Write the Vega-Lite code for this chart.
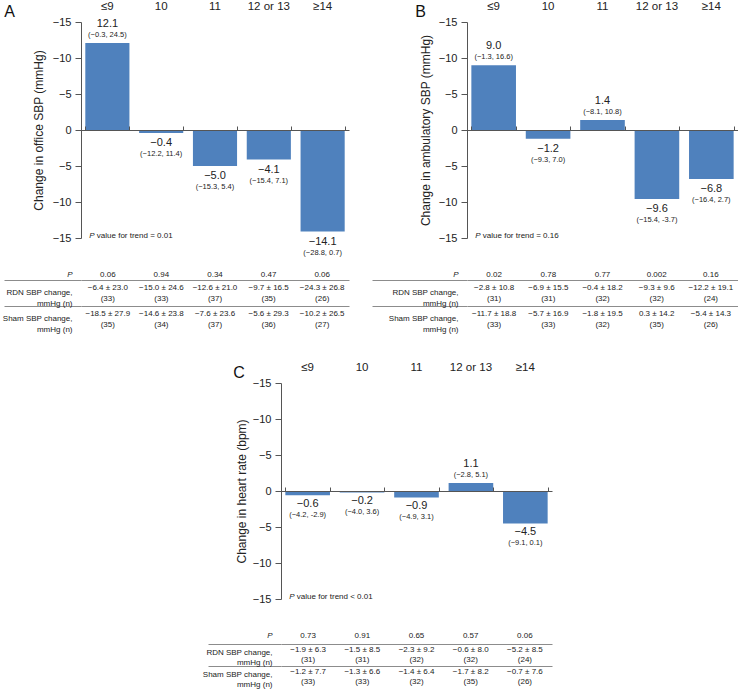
{
  "$schema": "https://vega.github.io/schema/vega-lite/v6.json",
  "background": "white",
  "padding": {"left": 2, "top": 0, "right": 0, "bottom": 0},
  "config": {"font": "Liberation Sans", "view": {"stroke": null}},
  "spacing": 27,
  "vconcat": [
    {
      "hconcat": [
        {
          "vconcat": [
            {
              "title": {"text": "A", "anchor": "start", "frame": "bounds", "offset": -20, "dx": -28, "fontSize": 16, "fontWeight": "normal", "color": "#111"},
              "width": 268, "height": 216,
              "data": {"values": [
                {"g": "≤9", "v": 12.1, "ci": "(−0.3, 24.5)"},
                {"g": "10", "v": -0.4, "ci": "(−12.2, 11.4)"},
                {"g": "11", "v": -5.0, "ci": "(−15.3, 5.4)"},
                {"g": "12 or 13", "v": -4.1, "ci": "(−15.4, 7.1)"},
                {"g": "≥14", "v": -14.1, "ci": "(−28.8, 0.7)"}
              ]},
              "encoding": {
                "x": {"field": "g", "type": "nominal", "sort": null, "axis": null, "scale": {"domain": ["≤9", "10", "11", "12 or 13", "≥14"], "paddingInner": 0.18, "paddingOuter": 0.08}},
                "y": {"field": "v", "type": "quantitative", "scale": {"domain": [-15, 15]}, "axis": {"values": [-15, -10, -5, 0, 5, 10, 15], "labelExpr": "datum.value == 0 ? '0' : '−' + abs(datum.value)", "title": "Change in office SBP (mmHg)", "titleFontSize": 12, "titleFontWeight": "normal", "titleColor": "#222", "titlePadding": 7, "labelFontSize": 11, "labelColor": "#222", "labelPadding": 4, "tickSize": 6, "tickColor": "#555", "domainColor": "#555", "grid": false}}
              },
              "layer": [
                {"mark": {"type": "bar", "color": "#4F81BD"},
                 "encoding": {"x": {"field": "g", "type": "nominal", "sort": null, "scale": {"domain": ["≤9", "10", "11", "12 or 13", "≥14"], "paddingInner": 0.18, "paddingOuter": 0.08}, "axis": {"orient": "top", "title": null, "domain": false, "ticks": false, "labelAngle": 0, "labelFontSize": 11.5, "labelColor": "#222", "labelPadding": 11, "grid": false}}}},
                {"transform": [{"filter": "datum.v > 0"}], "mark": {"type": "text", "fontSize": 11, "dy": -19, "color": "#222"}, "encoding": {"text": {"field": "v", "type": "quantitative", "format": ".1f"}}},
                {"transform": [{"filter": "datum.v > 0"}], "mark": {"type": "text", "fontSize": 7.5, "dy": -8, "color": "#222"}, "encoding": {"text": {"field": "ci"}}},
                {"transform": [{"filter": "datum.v < 0"}], "mark": {"type": "text", "fontSize": 11, "dy": 10, "color": "#222"},
                 "encoding": {"x": {"field": "g", "type": "nominal", "sort": null, "scale": {"domain": ["≤9", "10", "11", "12 or 13", "≥14"], "paddingInner": 0.18, "paddingOuter": 0.08}, "axis": {"orient": "bottom", "offset": -108, "title": null, "labels": false, "domain": true, "domainColor": "#555", "ticks": true, "tickBand": "extent", "tickSize": -4, "tickColor": "#555", "grid": false, "zindex": 1}}, "text": {"field": "v", "type": "quantitative", "format": ".1f"}}},
                {"transform": [{"filter": "datum.v < 0"}], "mark": {"type": "text", "fontSize": 7.5, "dy": 21, "color": "#222"}, "encoding": {"text": {"field": "ci"}}},
                {"transform": [{"filter": "datum.g === '≤9'"}], "mark": {"type": "text", "text": "P", "fontStyle": "italic", "align": "left", "fontSize": 8, "dx": 4, "dy": -2, "color": "#222"},
                 "encoding": {"x": {"datum": "≤9", "type": "nominal", "bandPosition": 0, "axis": null}, "y": {"datum": -15, "type": "quantitative"}}},
                {"transform": [{"filter": "datum.g === '≤9'"}], "mark": {"type": "text", "text": "value for trend = 0.01", "align": "left", "fontSize": 8, "dx": 11.5, "dy": -2, "color": "#222"},
                 "encoding": {"x": {"datum": "≤9", "type": "nominal", "bandPosition": 0, "axis": null}, "y": {"datum": -15, "type": "quantitative"}}}
              ],
              "resolve": {"axis": {"x": "independent"}}
            },
            {
              "width": 268, "height": 78,
              "data": {"values": [
                {"g": "≤9", "p": "0.06", "rdn": "−6.4 ± 23.0", "rdnN": "(33)", "sham": "−18.5 ± 27.9", "shamN": "(35)"},
                {"g": "10", "p": "0.94", "rdn": "−15.0 ± 24.6", "rdnN": "(33)", "sham": "−14.6 ± 23.8", "shamN": "(34)"},
                {"g": "11", "p": "0.34", "rdn": "−12.6 ± 21.0", "rdnN": "(37)", "sham": "−7.6 ± 23.6", "shamN": "(37)"},
                {"g": "12 or 13", "p": "0.47", "rdn": "−9.7 ± 16.5", "rdnN": "(35)", "sham": "−5.6 ± 29.3", "shamN": "(36)"},
                {"g": "≥14", "p": "0.06", "rdn": "−24.3 ± 26.8", "rdnN": "(26)", "sham": "−10.2 ± 26.5", "shamN": "(27)"}
              ]},
              "encoding": {
                "x": {"field": "g", "type": "nominal", "sort": null, "axis": null, "scale": {"domain": ["≤9", "10", "11", "12 or 13", "≥14"], "paddingInner": 0.18, "paddingOuter": 0.08}}
              },
              "layer": [
                {"mark": {"type": "text", "fontSize": 8, "dy": 8, "color": "#222"},
                 "encoding": {"y": {"datum": "P", "type": "nominal", "scale": {"type": "band", "domain": ["P", "RDN", "Sham"], "paddingInner": 0, "paddingOuter": 0},
                   "axis": {"title": null, "domain": false, "ticks": true, "bandPosition": 0, "tickSize": 77, "tickColor": "#8c8c8c", "tickOpacity": {"condition": {"test": "datum.value === 'P'", "value": 0}, "value": 1}, "grid": true, "gridColor": "#8c8c8c", "gridOpacity": {"condition": {"test": "datum.value === 'P'", "value": 0}, "value": 1}, "labelExpr": "datum.value === 'P' ? 'P' : datum.value === 'RDN' ? ['RDN SBP change,', 'mmHg (n)'] : ['Sham SBP change,', 'mmHg (n)']", "labelPadding": -68, "labelFontSize": 8, "labelColor": "#222", "labelLineHeight": 11, "labelAlign": "right", "labelBaseline": "middle", "labelFontStyle": {"condition": {"test": "datum.value === 'P'", "value": "italic"}, "value": "normal"}, "labelOffset": {"condition": {"test": "datum.value === 'P'", "value": 8}, "value": 0}}},
                   "text": {"field": "p"}}},
                {"mark": {"type": "text", "fontSize": 8, "dy": -5.5, "color": "#222"}, "encoding": {"y": {"datum": "RDN", "type": "nominal"}, "text": {"field": "rdn"}}},
                {"mark": {"type": "text", "fontSize": 8, "dy": 5.5, "color": "#222"}, "encoding": {"y": {"datum": "RDN", "type": "nominal"}, "text": {"field": "rdnN"}}},
                {"mark": {"type": "text", "fontSize": 8, "dy": -5.5, "color": "#222"}, "encoding": {"y": {"datum": "Sham", "type": "nominal"}, "text": {"field": "sham"}}},
                {"mark": {"type": "text", "fontSize": 8, "dy": 5.5, "color": "#222"}, "encoding": {"y": {"datum": "Sham", "type": "nominal"}, "text": {"field": "shamN"}}}
              ]
            }
          ],
          "spacing": 16,
          "bounds": "flush"
        },
        {
          "vconcat": [
            {
              "title": {"text": "B", "anchor": "start", "frame": "bounds", "offset": -20, "dx": -4, "fontSize": 16, "fontWeight": "normal", "color": "#111"},
              "width": 271, "height": 216,
              "data": {"values": [
                {"g": "≤9", "v": 9.0, "ci": "(−1.3, 16.6)"},
                {"g": "10", "v": -1.2, "ci": "(−9.3, 7.0)"},
                {"g": "11", "v": 1.4, "ci": "(−8.1, 10.8)"},
                {"g": "12 or 13", "v": -9.6, "ci": "(−15.4, -3.7)"},
                {"g": "≥14", "v": -6.8, "ci": "(−16.4, 2.7)"}
              ]},
              "encoding": {
                "x": {"field": "g", "type": "nominal", "sort": null, "axis": null, "scale": {"domain": ["≤9", "10", "11", "12 or 13", "≥14"], "paddingInner": 0.18, "paddingOuter": 0.08}},
                "y": {"field": "v", "type": "quantitative", "scale": {"domain": [-15, 15]}, "axis": {"values": [-15, -10, -5, 0, 5, 10, 15], "labelExpr": "datum.value == 0 ? '0' : '−' + abs(datum.value)", "title": "Change in ambulatory SBP (mmHg)", "titleFontSize": 12, "titleFontWeight": "normal", "titleColor": "#222", "titlePadding": 6, "labelFontSize": 11, "labelColor": "#222", "labelPadding": 4, "tickSize": 6, "tickColor": "#555", "domainColor": "#555", "grid": false}}
              },
              "layer": [
                {"mark": {"type": "bar", "color": "#4F81BD"},
                 "encoding": {"x": {"field": "g", "type": "nominal", "sort": null, "scale": {"domain": ["≤9", "10", "11", "12 or 13", "≥14"], "paddingInner": 0.18, "paddingOuter": 0.08}, "axis": {"orient": "top", "title": null, "domain": false, "ticks": false, "labelAngle": 0, "labelFontSize": 11.5, "labelColor": "#222", "labelPadding": 11, "grid": false}}}},
                {"transform": [{"filter": "datum.v > 0"}], "mark": {"type": "text", "fontSize": 11, "dy": -19, "color": "#222"}, "encoding": {"text": {"field": "v", "type": "quantitative", "format": ".1f"}}},
                {"transform": [{"filter": "datum.v > 0"}], "mark": {"type": "text", "fontSize": 7.5, "dy": -8, "color": "#222"}, "encoding": {"text": {"field": "ci"}}},
                {"transform": [{"filter": "datum.v < 0"}], "mark": {"type": "text", "fontSize": 11, "dy": 10, "color": "#222"},
                 "encoding": {"x": {"field": "g", "type": "nominal", "sort": null, "scale": {"domain": ["≤9", "10", "11", "12 or 13", "≥14"], "paddingInner": 0.18, "paddingOuter": 0.08}, "axis": {"orient": "bottom", "offset": -108, "title": null, "labels": false, "domain": true, "domainColor": "#555", "ticks": true, "tickBand": "extent", "tickSize": -4, "tickColor": "#555", "grid": false, "zindex": 1}}, "text": {"field": "v", "type": "quantitative", "format": ".1f"}}},
                {"transform": [{"filter": "datum.v < 0"}], "mark": {"type": "text", "fontSize": 7.5, "dy": 21, "color": "#222"}, "encoding": {"text": {"field": "ci"}}},
                {"transform": [{"filter": "datum.g === '≤9'"}], "mark": {"type": "text", "text": "P", "fontStyle": "italic", "align": "left", "fontSize": 8, "dx": 4, "dy": -2, "color": "#222"},
                 "encoding": {"x": {"datum": "≤9", "type": "nominal", "bandPosition": 0, "axis": null}, "y": {"datum": -15, "type": "quantitative"}}},
                {"transform": [{"filter": "datum.g === '≤9'"}], "mark": {"type": "text", "text": "value for trend = 0.16", "align": "left", "fontSize": 8, "dx": 11.5, "dy": -2, "color": "#222"},
                 "encoding": {"x": {"datum": "≤9", "type": "nominal", "bandPosition": 0, "axis": null}, "y": {"datum": -15, "type": "quantitative"}}}
              ],
              "resolve": {"axis": {"x": "independent"}}
            },
            {
              "width": 271, "height": 78,
              "data": {"values": [
                {"g": "≤9", "p": "0.02", "rdn": "−2.8 ± 10.8", "rdnN": "(31)", "sham": "−11.7 ± 18.8", "shamN": "(33)"},
                {"g": "10", "p": "0.78", "rdn": "−6.9 ± 15.5", "rdnN": "(31)", "sham": "−5.7 ± 16.9", "shamN": "(33)"},
                {"g": "11", "p": "0.77", "rdn": "−0.4 ± 18.2", "rdnN": "(32)", "sham": "−1.8 ± 19.5", "shamN": "(32)"},
                {"g": "12 or 13", "p": "0.002", "rdn": "−9.3 ± 9.6", "rdnN": "(32)", "sham": "0.3 ± 14.2", "shamN": "(35)"},
                {"g": "≥14", "p": "0.16", "rdn": "−12.2 ± 19.1", "rdnN": "(24)", "sham": "−5.4 ± 14.3", "shamN": "(26)"}
              ]},
              "encoding": {
                "x": {"field": "g", "type": "nominal", "sort": null, "axis": null, "scale": {"domain": ["≤9", "10", "11", "12 or 13", "≥14"], "paddingInner": 0.18, "paddingOuter": 0.08}}
              },
              "layer": [
                {"mark": {"type": "text", "fontSize": 8, "dy": 8, "color": "#222"},
                 "encoding": {"y": {"datum": "P", "type": "nominal", "scale": {"type": "band", "domain": ["P", "RDN", "Sham"], "paddingInner": 0, "paddingOuter": 0},
                   "axis": {"title": null, "domain": false, "ticks": true, "bandPosition": 0, "tickSize": 95, "tickColor": "#8c8c8c", "tickOpacity": {"condition": {"test": "datum.value === 'P'", "value": 0}, "value": 1}, "grid": true, "gridColor": "#8c8c8c", "gridOpacity": {"condition": {"test": "datum.value === 'P'", "value": 0}, "value": 1}, "labelExpr": "datum.value === 'P' ? 'P' : datum.value === 'RDN' ? ['RDN SBP change,', 'mmHg (n)'] : ['Sham SBP change,', 'mmHg (n)']", "labelPadding": -86, "labelFontSize": 8, "labelColor": "#222", "labelLineHeight": 11, "labelAlign": "right", "labelBaseline": "middle", "labelFontStyle": {"condition": {"test": "datum.value === 'P'", "value": "italic"}, "value": "normal"}, "labelOffset": {"condition": {"test": "datum.value === 'P'", "value": 8}, "value": 0}}},
                   "text": {"field": "p"}}},
                {"mark": {"type": "text", "fontSize": 8, "dy": -5.5, "color": "#222"}, "encoding": {"y": {"datum": "RDN", "type": "nominal"}, "text": {"field": "rdn"}}},
                {"mark": {"type": "text", "fontSize": 8, "dy": 5.5, "color": "#222"}, "encoding": {"y": {"datum": "RDN", "type": "nominal"}, "text": {"field": "rdnN"}}},
                {"mark": {"type": "text", "fontSize": 8, "dy": -5.5, "color": "#222"}, "encoding": {"y": {"datum": "Sham", "type": "nominal"}, "text": {"field": "sham"}}},
                {"mark": {"type": "text", "fontSize": 8, "dy": 5.5, "color": "#222"}, "encoding": {"y": {"datum": "Sham", "type": "nominal"}, "text": {"field": "shamN"}}}
              ]
            }
          ],
          "spacing": 16,
          "bounds": "flush"
        }
      ],
      "spacing": 22
    },
    {
      "hconcat": [
        {"width": 121, "height": 1, "mark": "text", "data": {"values": []}},
        {
          "vconcat": [
            {
              "title": {"text": "C", "anchor": "start", "frame": "bounds", "offset": -20, "dx": -2, "fontSize": 16, "fontWeight": "normal", "color": "#111"},
              "width": 271, "height": 216,
              "data": {"values": [
                {"g": "≤9", "v": -0.6, "ci": "(−4.2, -2.9)"},
                {"g": "10", "v": -0.2, "ci": "(−4.0, 3.6)"},
                {"g": "11", "v": -0.9, "ci": "(−4.9, 3.1)"},
                {"g": "12 or 13", "v": 1.1, "ci": "(−2.8, 5.1)"},
                {"g": "≥14", "v": -4.5, "ci": "(−9.1, 0.1)"}
              ]},
              "encoding": {
                "x": {"field": "g", "type": "nominal", "sort": null, "axis": null, "scale": {"domain": ["≤9", "10", "11", "12 or 13", "≥14"], "paddingInner": 0.18, "paddingOuter": 0.08}},
                "y": {"field": "v", "type": "quantitative", "scale": {"domain": [-15, 15]}, "axis": {"values": [-15, -10, -5, 0, 5, 10, 15], "labelExpr": "datum.value == 0 ? '0' : '−' + abs(datum.value)", "title": "Change in heart rate (bpm)", "titleFontSize": 12, "titleFontWeight": "normal", "titleColor": "#222", "titlePadding": 4, "labelFontSize": 11, "labelColor": "#222", "labelPadding": 4, "tickSize": 6, "tickColor": "#555", "domainColor": "#555", "grid": false}}
              },
              "layer": [
                {"mark": {"type": "bar", "color": "#4F81BD"},
                 "encoding": {"x": {"field": "g", "type": "nominal", "sort": null, "scale": {"domain": ["≤9", "10", "11", "12 or 13", "≥14"], "paddingInner": 0.18, "paddingOuter": 0.08}, "axis": {"orient": "top", "title": null, "domain": false, "ticks": false, "labelAngle": 0, "labelFontSize": 11.5, "labelColor": "#222", "labelPadding": 11, "grid": false}}}},
                {"transform": [{"filter": "datum.v > 0"}], "mark": {"type": "text", "fontSize": 11, "dy": -19, "color": "#222"}, "encoding": {"text": {"field": "v", "type": "quantitative", "format": ".1f"}}},
                {"transform": [{"filter": "datum.v > 0"}], "mark": {"type": "text", "fontSize": 7.5, "dy": -8, "color": "#222"}, "encoding": {"text": {"field": "ci"}}},
                {"transform": [{"filter": "datum.v < 0"}], "mark": {"type": "text", "fontSize": 11, "dy": 9, "color": "#222"},
                 "encoding": {"x": {"field": "g", "type": "nominal", "sort": null, "scale": {"domain": ["≤9", "10", "11", "12 or 13", "≥14"], "paddingInner": 0.18, "paddingOuter": 0.08}, "axis": {"orient": "bottom", "offset": -108, "title": null, "labels": false, "domain": true, "domainColor": "#555", "ticks": true, "tickBand": "extent", "tickSize": -4, "tickColor": "#555", "grid": false, "zindex": 1}}, "text": {"field": "v", "type": "quantitative", "format": ".1f"}}},
                {"transform": [{"filter": "datum.v < 0"}], "mark": {"type": "text", "fontSize": 7.5, "dy": 20, "color": "#222"}, "encoding": {"text": {"field": "ci"}}},
                {"transform": [{"filter": "datum.g === '≤9'"}], "mark": {"type": "text", "text": "P", "fontStyle": "italic", "align": "left", "fontSize": 8, "dx": 4, "dy": -2, "color": "#222"},
                 "encoding": {"x": {"datum": "≤9", "type": "nominal", "bandPosition": 0, "axis": null}, "y": {"datum": -15, "type": "quantitative"}}},
                {"transform": [{"filter": "datum.g === '≤9'"}], "mark": {"type": "text", "text": "value for trend < 0.01", "align": "left", "fontSize": 8, "dx": 11.5, "dy": -2, "color": "#222"},
                 "encoding": {"x": {"datum": "≤9", "type": "nominal", "bandPosition": 0, "axis": null}, "y": {"datum": -15, "type": "quantitative"}}}
              ],
              "resolve": {"axis": {"x": "independent"}}
            },
            {
              "width": 271, "height": 66,
              "data": {"values": [
                {"g": "≤9", "p": "0.73", "rdn": "−1.9 ± 6.3", "rdnN": "(31)", "sham": "−1.2 ± 7.7", "shamN": "(33)"},
                {"g": "10", "p": "0.91", "rdn": "−1.5 ± 8.5", "rdnN": "(31)", "sham": "−1.3 ± 6.6", "shamN": "(33)"},
                {"g": "11", "p": "0.65", "rdn": "−2.3 ± 9.2", "rdnN": "(32)", "sham": "−1.4 ± 6.4", "shamN": "(32)"},
                {"g": "12 or 13", "p": "0.57", "rdn": "−0.6 ± 8.0", "rdnN": "(32)", "sham": "−1.7 ± 8.2", "shamN": "(35)"},
                {"g": "≥14", "p": "0.06", "rdn": "−5.2 ± 8.5", "rdnN": "(24)", "sham": "−0.7 ± 7.6", "shamN": "(26)"}
              ]},
              "encoding": {
                "x": {"field": "g", "type": "nominal", "sort": null, "axis": null, "scale": {"domain": ["≤9", "10", "11", "12 or 13", "≥14"], "paddingInner": 0.18, "paddingOuter": 0.08}}
              },
              "layer": [
                {"mark": {"type": "text", "fontSize": 8, "dy": 3, "color": "#222"},
                 "encoding": {"y": {"datum": "P", "type": "nominal", "scale": {"type": "band", "domain": ["P", "RDN", "Sham"], "paddingInner": 0, "paddingOuter": 0},
                   "axis": {"title": null, "domain": false, "ticks": true, "bandPosition": 0, "tickSize": 73, "tickColor": "#8c8c8c", "tickOpacity": {"condition": {"test": "datum.value === 'P'", "value": 0}, "value": 1}, "grid": true, "gridColor": "#8c8c8c", "gridOpacity": {"condition": {"test": "datum.value === 'P'", "value": 0}, "value": 1}, "labelExpr": "datum.value === 'P' ? 'P' : datum.value === 'RDN' ? ['RDN SBP change,', 'mmHg (n)'] : ['Sham SBP change,', 'mmHg (n)']", "labelPadding": -64, "labelFontSize": 8, "labelColor": "#222", "labelLineHeight": 10, "labelAlign": "right", "labelBaseline": "middle", "labelFontStyle": {"condition": {"test": "datum.value === 'P'", "value": "italic"}, "value": "normal"}, "labelOffset": {"condition": {"test": "datum.value === 'P'", "value": 3}, "value": -2}}},
                   "text": {"field": "p"}}},
                {"mark": {"type": "text", "fontSize": 8, "dy": -5, "color": "#222"}, "encoding": {"y": {"datum": "RDN", "type": "nominal"}, "text": {"field": "rdn"}}},
                {"mark": {"type": "text", "fontSize": 8, "dy": 5, "color": "#222"}, "encoding": {"y": {"datum": "RDN", "type": "nominal"}, "text": {"field": "rdnN"}}},
                {"mark": {"type": "text", "fontSize": 8, "dy": -5, "color": "#222"}, "encoding": {"y": {"datum": "Sham", "type": "nominal"}, "text": {"field": "sham"}}},
                {"mark": {"type": "text", "fontSize": 8, "dy": 5, "color": "#222"}, "encoding": {"y": {"datum": "Sham", "type": "nominal"}, "text": {"field": "shamN"}}}
              ]
            }
          ],
          "spacing": 23,
          "bounds": "flush"
        }
      ],
      "spacing": 0
    }
  ]
}
